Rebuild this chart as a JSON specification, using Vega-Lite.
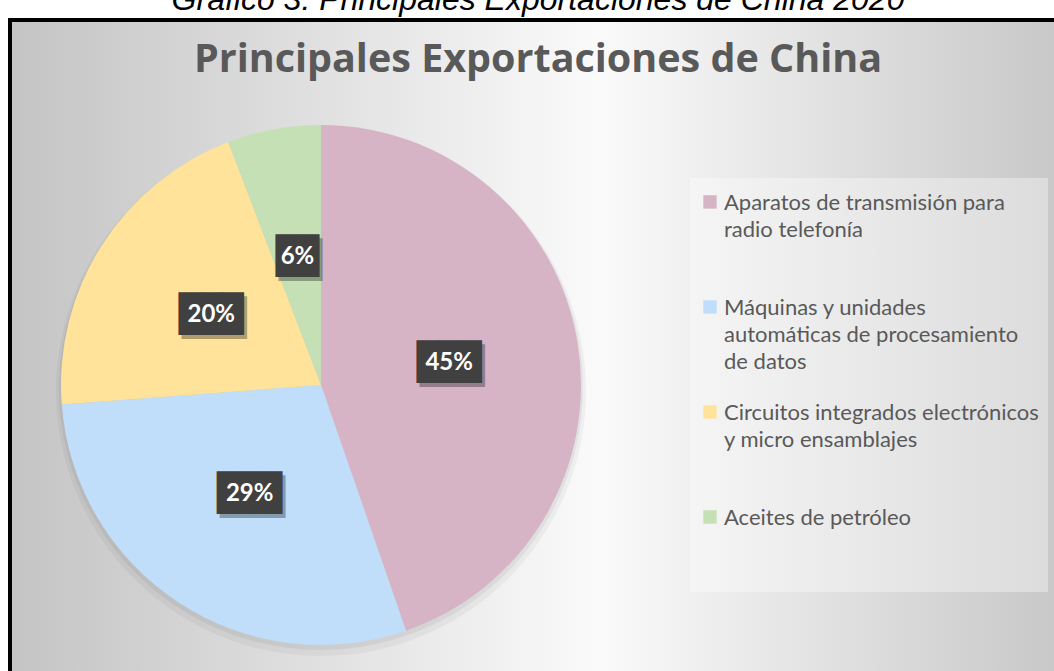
{
  "$schema": "https://vega.github.io/schema/vega-lite/v6.json",
  "width": 1050,
  "height": 657,
  "autosize": {"type": "none"},
  "padding": {"left": 10, "top": 20, "right": -6, "bottom": -6},
  "background": "white",
  "config": {
    "view": {"stroke": null},
    "style": {"guide-label": {"lineHeight": 27}}
  },
  "title": {
    "text": "Gráfico 3. Principales Exportaciones de China 2020",
    "subtitle": "Principales Exportaciones de China",
    "orient": "top",
    "anchor": "middle",
    "frame": "group",
    "offset": -62,
    "dx": 3,
    "font": "Liberation Sans",
    "fontStyle": "italic",
    "fontWeight": "normal",
    "fontSize": 32,
    "color": "#000000",
    "subtitleFont": "Open Sans",
    "subtitleFontWeight": "bold",
    "subtitleFontSize": 39.5,
    "subtitleColor": "#595959",
    "subtitlePadding": 24
  },
  "datasets": {
    "exportaciones": [
      {"categoria": "Aparatos de transmisión para radio telefonía", "pct": 0.447, "orden": 1},
      {"categoria": "Máquinas y unidades automáticas de procesamiento de datos", "pct": 0.291, "orden": 2},
      {"categoria": "Circuitos integrados electrónicos y micro ensamblajes", "pct": 0.204, "orden": 3},
      {"categoria": "Aceites de petróleo", "pct": 0.058, "orden": 4}
    ],
    "fondo": [{}]
  },
  "layer": [
    {
      "data": {"name": "fondo"},
      "mark": {
        "type": "rect",
        "stroke": "#000000",
        "strokeWidth": 4,
        "fill": {
          "gradient": "linear",
          "x1": 0, "y1": 0, "x2": 1, "y2": 0,
          "stops": [
            {"offset": 0, "color": "#c4c4c4"},
            {"offset": 0.56, "color": "#fafafa"},
            {"offset": 1, "color": "#c8c8c8"}
          ]
        }
      },
      "encoding": {}
    },
    {
      "data": {"name": "exportaciones"},
      "mark": {"type": "arc", "outerRadius": 265, "fill": "#000000", "opacity": 0.04},
      "encoding": {
        "theta": {"field": "pct", "type": "quantitative", "stack": true},
        "order": {"field": "orden", "type": "quantitative"},
        "detail": {"field": "categoria"},
        "x": {"value": 311},
        "y": {"value": 371}
      }
    },
    {
      "data": {"name": "exportaciones"},
      "mark": {"type": "arc", "outerRadius": 262, "fill": "#000000", "opacity": 0.05},
      "encoding": {
        "theta": {"field": "pct", "type": "quantitative", "stack": true},
        "order": {"field": "orden", "type": "quantitative"},
        "detail": {"field": "categoria"},
        "x": {"value": 311},
        "y": {"value": 368}
      }
    },
    {
      "data": {"name": "exportaciones"},
      "mark": {"type": "arc", "outerRadius": 260},
      "encoding": {
        "theta": {"field": "pct", "type": "quantitative", "stack": true},
        "order": {"field": "orden", "type": "quantitative"},
        "color": {
          "field": "categoria",
          "type": "nominal",
          "sort": null,
          "scale": {
            "domain": [
              "Aparatos de transmisión para radio telefonía",
              "Máquinas y unidades automáticas de procesamiento de datos",
              "Circuitos integrados electrónicos y micro ensamblajes",
              "Aceites de petróleo"
            ],
            "range": ["#d6b4c6", "#c0defa", "#ffe39a", "#c5e0b4"]
          },
          "legend": {
            "orient": "none",
            "legendX": 680,
            "legendY": 158,
            "title": "\u00a0",
            "titleOrient": "top",
            "titleFontSize": 2,
            "titlePadding": 10,
            "fillColor": "rgba(255,255,255,0.35)",
            "padding": 9,
            "symbolType": "M-1,-2.2H1V-0.2H-1Z",
            "symbolSize": 180,
            "symbolStrokeWidth": 0,
            "symbolOpacity": 1,
            "labelFont": "Lato",
            "labelFontSize": 22,
            "labelColor": "#595959",
            "labelOffset": 3,
            "labelLimit": 400,
            "labelBaseline": "alphabetic",
            "gridAlign": "all",
            "rowPadding": 29,
            "labelExpr": "datum.value == 'Aparatos de transmisión para radio telefonía' ? ['Aparatos de transmisión para', 'radio telefonía'] : datum.value == 'Máquinas y unidades automáticas de procesamiento de datos' ? ['Máquinas y unidades', 'automáticas de procesamiento', 'de datos'] : datum.value == 'Circuitos integrados electrónicos y micro ensamblajes' ? ['Circuitos integrados electrónicos', 'y micro ensamblajes'] : [datum.label, ' ', ' ']"
          }
        },
        "x": {"value": 311},
        "y": {"value": 365}
      }
    },
    {
      "data": {"name": "exportaciones"},
      "mark": {"type": "text", "font": "DejaVu Sans Mono", "fontSize": 36, "fill": "#000000", "opacity": 0.3, "dx": 3, "dy": 4, "baseline": "middle", "align": "center"},
      "encoding": {
        "theta": {"field": "pct", "type": "quantitative", "stack": true},
        "order": {"field": "orden", "type": "quantitative"},
        "detail": {"field": "categoria"},
        "radius": {"value": 130},
        "text": {"condition": {"test": "datum.pct < 0.1", "value": "██"}, "value": "███"},
        "x": {"value": 311},
        "y": {"value": 365}
      }
    },
    {
      "data": {"name": "exportaciones"},
      "mark": {"type": "text", "font": "DejaVu Sans Mono", "fontSize": 36, "fill": "#404040", "baseline": "middle", "align": "center"},
      "encoding": {
        "theta": {"field": "pct", "type": "quantitative", "stack": true},
        "order": {"field": "orden", "type": "quantitative"},
        "detail": {"field": "categoria"},
        "radius": {"value": 130},
        "text": {"condition": {"test": "datum.pct < 0.1", "value": "██"}, "value": "███"},
        "x": {"value": 311},
        "y": {"value": 365}
      }
    },
    {
      "data": {"name": "exportaciones"},
      "mark": {"type": "text", "font": "Lato", "fontWeight": "bold", "fontSize": 24, "fill": "#ffffff", "baseline": "middle", "align": "center"},
      "encoding": {
        "theta": {"field": "pct", "type": "quantitative", "stack": true},
        "order": {"field": "orden", "type": "quantitative"},
        "detail": {"field": "categoria"},
        "radius": {"value": 130},
        "text": {"field": "pct", "type": "quantitative", "format": ".0%"},
        "x": {"value": 311},
        "y": {"value": 365}
      }
    }
  ]
}
